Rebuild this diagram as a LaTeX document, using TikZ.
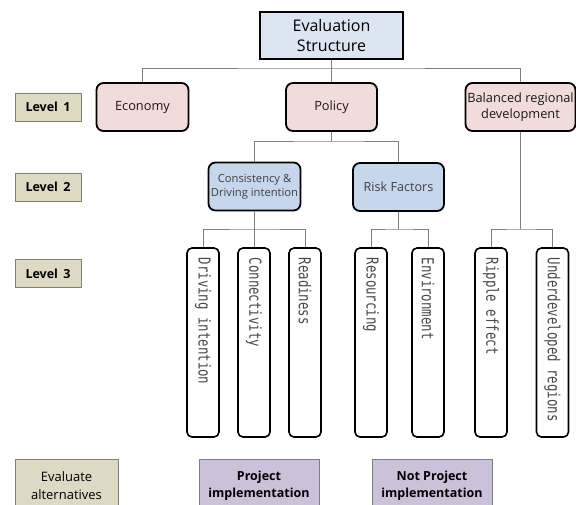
\documentclass[tikz,border=0pt]{standalone}
\usepackage{fontspec}
\setmainfont{Open Sans}
\newfontfamily\thinfont{DejaVu Sans Mono}
\definecolor{evalblue}{HTML}{DCE6F2}
\definecolor{lvonepink}{HTML}{F2DCDB}
\definecolor{lvtwoblue}{HTML}{C6D6EC}
\definecolor{tanfill}{HTML}{DDD9C3}
\definecolor{lavfill}{HTML}{CCC1DA}
\definecolor{connc}{HTML}{7F7F7F}
\definecolor{txtgray}{HTML}{404040}
\definecolor{thingray}{HTML}{4A4A4A}
\newcommand{\squeeze}[1]{\scalebox{0.75}[1]{#1}}
\begin{document}
\begin{tikzpicture}[x=1pt,y=-1pt,
  conn/.style={draw=connc,line width=1pt},
  bigbox/.style={draw=black,line width=1.8pt,align=center,inner sep=0pt},
  lvone/.style={draw=black,line width=1.8pt,rounded corners=7pt,fill=lvonepink,align=center,inner sep=0pt,
     minimum height=48pt,font=\fontsize{12.8}{15.5}\selectfont,text=black!90},
  lvtwo/.style={draw=black,line width=1.8pt,rounded corners=7pt,fill=lvtwoblue,align=center,inner sep=0pt,
     minimum width=91pt,minimum height=48pt,text=txtgray},
  lvthree/.style={draw=black,line width=1.6pt,rounded corners=5pt,fill=white,inner sep=0pt,
     minimum width=32pt,minimum height=189pt},
  lvthreetext/.style={rotate=-90,anchor=west,inner sep=0pt,font=\thinfont\fontsize{16.5}{18}\selectfont,text=thingray},
  tag/.style={draw=connc,line width=0.9pt,fill=tanfill,align=center,inner sep=0pt,minimum width=66pt,
     minimum height=28pt,font=\bfseries\fontsize{12.5}{15}\selectfont},
  alt/.style={draw=connc,line width=0.9pt,fill=lavfill,align=center,inner sep=0pt,minimum width=120pt,
     minimum height=52pt,anchor=north,font=\bfseries\fontsize{12.5}{17}\selectfont},
]
\useasboundingbox (0,0) rectangle (576,504);
\clip (0,0) rectangle (576,504);

% top
\node[bigbox,fill=evalblue,minimum width=143pt,minimum height=47pt,font=\fontsize{16}{20}\selectfont] (eval) at (331.5,35.5) {Evaluation\\Structure};

% level 1
\node[lvone,minimum width=92pt] (economy) at (142.5,107) {Economy};
\node[lvone,minimum width=91pt] (policy) at (331.5,107) {Policy};
\node[lvone,minimum width=110pt] (balanced) at (520.5,107) {Balanced regional\\development};

% level 2
\node[lvtwo,minimum width=92pt,font=\fontsize{11.2}{14}\selectfont] (consist) at (254.5,186.5) {Consistency \&\\Driving intention};
\node[lvtwo,font=\fontsize{12.6}{15}\selectfont] (risk) at (398.5,187) {Risk Factors};

% level 3
\node[lvthree] (drive) at (203,342.5) {};
\node[lvthree] (connect) at (254,342.5) {};
\node[lvthree] (ready) at (305,342.5) {};
\node[lvthree] (resour) at (371,342.5) {};
\node[lvthree] (envir) at (428,342.5) {};
\node[lvthree] (ripple) at (491,342.5) {};
\node[lvthree] (under) at (552.5,342.5) {};
\node[lvthreetext] (tdrive) at (203,257.5) {\squeeze{Driving intention}};
\node[lvthreetext] (tconnect) at (254,257.5) {\squeeze{Connectivity}};
\node[lvthreetext] (tready) at (305,257.5) {\squeeze{Readiness}};
\node[lvthreetext] (tresour) at (371,257.5) {\squeeze{Resourcing}};
\node[lvthreetext] (tenvir) at (428,257.5) {\squeeze{Environment}};
\node[lvthreetext] (tripple) at (491,257.5) {\squeeze{Ripple effect}};
\node[lvthreetext] (tunder) at (552.5,257.5) {\squeeze{Underdeveloped regions}};

% level tags
\node[tag] (lone) at (48,107) {Level\, 1};
\node[tag] (ltwo) at (48,187) {Level\, 2};
\node[tag] (lthree) at (48,273.5) {Level\, 3};
\node[tag,minimum width=103pt,minimum height=52pt,font=\fontsize{13}{18}\selectfont,anchor=north] (evalalt) at (66.5,459) {Evaluate\\alternatives};

% alternatives
\node[alt] (proj) at (259,459) {Project\\implementation};
\node[alt] (notproj) at (432,459) {Not Project\\implementation};

% connectors
\coordinate (busa) at (331.5,68);
\draw[conn] (eval.south) -- (busa);
\draw[conn] (economy.north) |- (busa) -| (balanced.north);
\draw[conn] (policy.north) -- (busa);

\coordinate (busb) at (331.5,141);
\draw[conn] (policy.south) -- (busb);
\draw[conn] (consist.north) |- (busb) -| (risk.north);

\coordinate (busc) at (254.5,229);
\draw[conn] (consist.south) -- (busc);
\draw[conn] (drive.north) |- (busc) -| (ready.north);
\draw[conn] (connect.north) -- (connect.north |- busc);

\coordinate (busd) at (398.5,229);
\draw[conn] (risk.south) -- (busd);
\draw[conn] (resour.north) |- (busd) -| (envir.north);

\coordinate (buse) at (520.5,229);
\draw[conn] (balanced.south) -- (buse);
\draw[conn] (ripple.north) |- (buse) -| (under.north);
\end{tikzpicture}
\end{document}
